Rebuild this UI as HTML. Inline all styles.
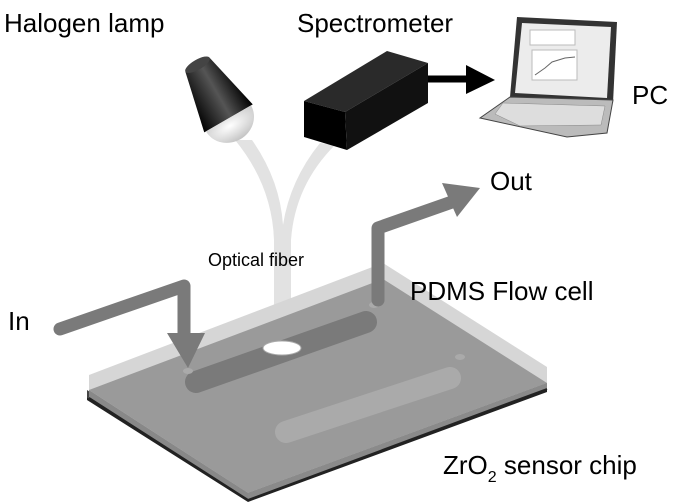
<!DOCTYPE html>
<html><head><style>html,body{margin:0;padding:0;background:#fff}svg{display:block}</style></head>
<body>
<svg width="700" height="502" viewBox="0 0 700 502" xmlns="http://www.w3.org/2000/svg" font-family="Liberation Sans, Arial, sans-serif">
<defs>
<linearGradient id="lamp" x1="0" y1="0" x2="1" y2="0"><stop offset="0" stop-color="#000"/><stop offset="0.55" stop-color="#555"/><stop offset="1" stop-color="#000"/></linearGradient>
<radialGradient id="bulb" cx="0.45" cy="0.3" r="0.8"><stop offset="0" stop-color="#fff"/><stop offset="1" stop-color="#bbb"/></radialGradient>
</defs>
<!-- fiber -->
<path d="M235,140 Q272,185 274,240 L274,348 L291,348 L291,240 Q295,185 335,145 L320,143 Q290,180 283,225 Q280,180 252,140 Z" fill="#e2e2e2"/>
<!-- lamp -->
<g transform="rotate(-30 215 95)">
<path d="M201,60 L229,60 L243,122 L187,122 Z" fill="url(#lamp)"/>
<ellipse cx="215" cy="60" rx="14" ry="5" fill="#444"/>
<path d="M189,122 A26,24 0 0 0 241,122 Z" fill="url(#bulb)"/>
</g>
<!-- spectrometer -->
<polygon points="304,101 387,51 428,63 345,112" fill="#2a2a2a"/>
<polygon points="304,101 345,112 347,150 304,137" fill="#000"/>
<polygon points="345,112 428,63 428,103 347,150" fill="#111"/>
<!-- arrow to PC -->
<line x1="428" y1="79" x2="470" y2="79" stroke="#000" stroke-width="7"/>
<polygon points="466,65 495,80 466,94" fill="#000"/>
<!-- laptop -->
<polygon points="517,17 617,22 613,103 510,97" fill="#333"/>
<polygon points="522,23 611,27 607,98 515,93" fill="#ececec"/>
<rect x="530" y="30" width="45" height="15" fill="#fff" stroke="#bbb"/>
<rect x="532" y="50" width="45" height="30" fill="#fff" stroke="#bbb"/>
<polyline points="535,75 545,68 552,62 565,58 575,57" fill="none" stroke="#666"/>
<polygon points="510,97 613,100 607,133 567,137 480,118" fill="#bbb" stroke="#444"/>
<polygon points="503,103 605,106 601,125 520,126 495,114" fill="#ddd" stroke="#888" stroke-width="0.5"/>
<!-- chip -->
<polygon points="87,390 248,493 248,499 87,397" fill="#444"/>
<polygon points="248,493 547,383 547,389 248,499" fill="#333"/>
<polygon points="87,397 248,499 547,389 547,392 248,502 87,400" fill="#222"/>
<polygon points="89,375 383,263 547,367 547,383 248,493 89,390" fill="#d6d6d6"/>
<polygon points="89,390 383,279 547,383 248,493" fill="#9a9a9a"/>
<polygon points="89,390 248,493 248,499 89,397" fill="#888"/>
<polygon points="248,493 547,383 547,389 248,499" fill="#8a8a8a"/>
<line x1="89" y1="398" x2="248" y2="500" stroke="#222" stroke-width="2"/>
<line x1="248" y1="500" x2="547" y2="389" stroke="#222" stroke-width="2"/>
<!-- channels -->
<line x1="196" y1="382" x2="366" y2="322" stroke="#7a7a7a" stroke-width="22" stroke-linecap="round"/>
<line x1="286" y1="432" x2="450" y2="378" stroke="#aaa" stroke-width="22" stroke-linecap="round"/>
<ellipse cx="460" cy="357" rx="5" ry="3" fill="#aaa"/>
<ellipse cx="374" cy="305" rx="5" ry="3" fill="#aaa"/>
<ellipse cx="188" cy="371" rx="5" ry="3" fill="#aaa"/>
<!-- fiber end -->
<ellipse cx="282" cy="348" rx="19" ry="7" fill="#fff" stroke="#aaa"/>
<!-- In arrow -->
<polyline points="60,329 184,286 184,340" fill="none" stroke="#7a7a7a" stroke-width="13" stroke-linecap="round" stroke-linejoin="round"/>
<polygon points="167,333 205,333 188,368" fill="#7a7a7a"/>
<!-- Out arrow -->
<polyline points="378,300 378,228 452,202" fill="none" stroke="#7a7a7a" stroke-width="13" stroke-linecap="round" stroke-linejoin="round"/>
<polygon points="442,183 480,188 457,217" fill="#7a7a7a"/>
<!-- text -->
<g fill="#000" font-size="26">
<text x="4" y="32">Halogen lamp</text>
<text x="297" y="32">Spectrometer</text>
<text x="632" y="104">PC</text>
<text x="490" y="190">Out</text>
<text x="410" y="300">PDMS Flow cell</text>
<text x="8" y="330">In</text>
<text x="443" y="474">ZrO<tspan font-size="16" dy="8">2</tspan><tspan dy="-8"> sensor chip</tspan></text>
<text x="208" y="266" font-size="18">Optical fiber</text>
</g>
</svg>
</body></html>
